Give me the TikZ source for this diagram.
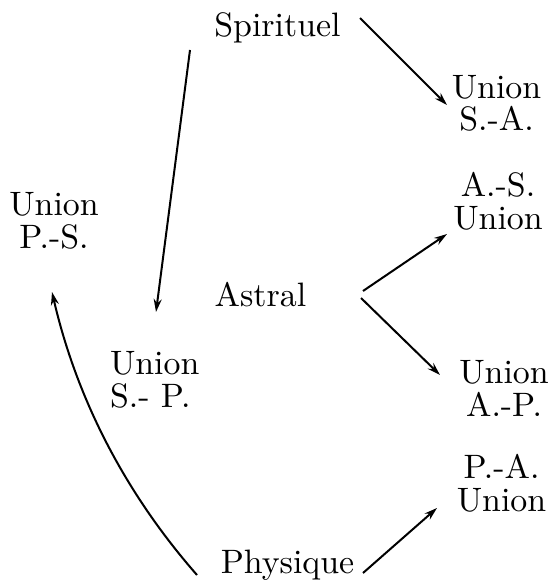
\documentclass[tikz,border=0pt]{standalone}
\usepackage{fontspec}
\newfontfamily\lmten{lmroman10-regular}[Extension=.otf]
\usetikzlibrary{arrows.meta}
\begin{document}
\begin{tikzpicture}[x=1bp,y=-1bp,
  lbl/.style={inner sep=0pt, outer sep=0pt, font=\lmten\fontsize{34}{33}\selectfont, anchor=base},
  arr/.style={line width=2bp, -{Stealth[length=13bp,width=8bp]}}]
\useasboundingbox (0,0) rectangle (553,581);
\node[lbl] (spirituel) at (277.5,37) {Spirituel};
\node[lbl, align=center] (usa) at (496.5,131) {Union\\S.-A.};
\node[lbl, align=center] (uas) at (498,229) {A.-S.\\Union};
\node[lbl, align=center] (ups) at (54,248) {Union\\P.-S.};
\node[lbl] (astral) at (260.5,306) {Astral};
\node[lbl, align=left, anchor=base west] (usp) at (110,407) {Union\\S.- P.};
\node[lbl, align=center] (uap) at (504,416) {Union\\A.-P.};
\node[lbl, align=center] (upa) at (501.5,511) {P.-A.\\Union};
\node[lbl] (physique) at (287.5,573) {Physique};
% connector end points
\coordinate (s1) at (360,18);
\coordinate (s2) at (190,50);
\coordinate (a1) at (363,291);
\coordinate (a2) at (361,298);
\coordinate (p1) at (363,573);
\coordinate (p2) at (197,575);
\coordinate (tsa) at (447,105);
\coordinate (tsp) at (156,312);
\coordinate (tas) at (447,234);
\coordinate (tap) at (440,375);
\coordinate (tpa) at (437,508);
\coordinate (tps) at (52,292);
\draw[arr] (s1) -- (tsa);
\draw[arr] (s2) -- (tsp);
\draw[arr] (a1) -- (tas);
\draw[arr] (a2) -- (tap);
\draw[arr] (p1) -- (tpa);
\draw[arr] (p2) .. controls (124.9,492.8) and (76.6,398.5) .. (tps);
\end{tikzpicture}
\end{document}
